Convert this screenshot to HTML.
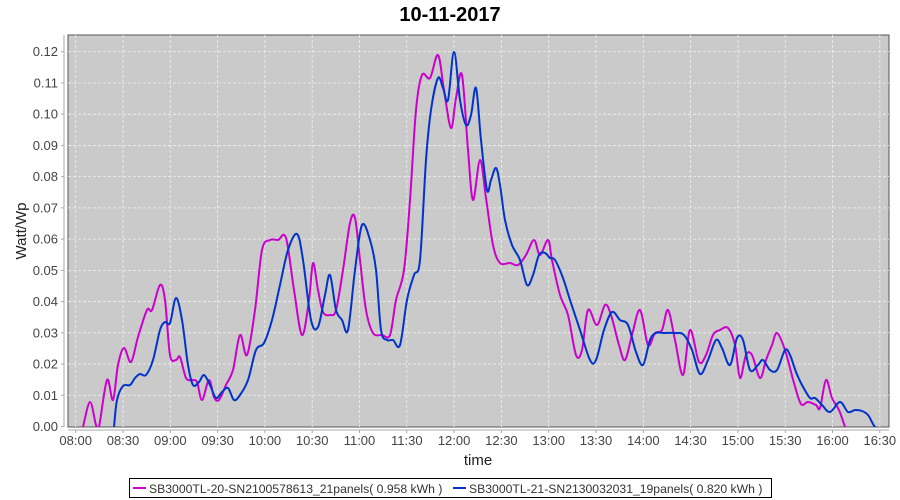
<!DOCTYPE html>
<html><head><meta charset="utf-8"><style>
body{margin:0;background:#fff;}
svg{display:block;font-family:"Liberation Sans",sans-serif;}
</style></head><body>
<svg id="s" width="900" height="500" xmlns="http://www.w3.org/2000/svg">
<defs><clipPath id="cp"><rect x="68" y="35" width="821" height="392"/></clipPath></defs>
<text x="450" y="21" text-anchor="middle" font-size="20" font-weight="bold" fill="#000">10-11-2017</text>
<rect x="68" y="35" width="821" height="392" fill="#cacaca" stroke="#555" stroke-width="1"/>
<g id="grid" stroke="#f0f0f0" stroke-dasharray="3,2" stroke-width="0.8"></g>
<g id="axes" stroke="#aaa" fill="none"></g>
<g id="labels" font-size="13" fill="#444"></g>
<text transform="translate(26,231) rotate(-90)" text-anchor="middle" font-size="15" fill="#222">Watt/Wp</text>
<text x="478" y="465" text-anchor="middle" font-size="15" fill="#222">time</text>
<g clip-path="url(#cp)">
<path id="m" fill="none" stroke="#cc00cc" stroke-width="2"/>
<path id="b" fill="none" stroke="#0033cc" stroke-width="2"/>
</g>
<rect x="129.5" y="478.5" width="642" height="19" fill="#fff" stroke="#000"/>
<line x1="133" y1="488" x2="146" y2="488" stroke="#cc00cc" stroke-width="2"/>
<text x="149" y="493" font-size="12.2" fill="#333">SB3000TL-20-SN2100578613_21panels( 0.958 kWh )</text>
<line x1="453" y1="488" x2="466" y2="488" stroke="#0033cc" stroke-width="2"/>
<text x="469" y="493" font-size="12.2" fill="#333">SB3000TL-21-SN2130032031_19panels( 0.820 kWh )</text>
</svg>
<script>
var NS="http://www.w3.org/2000/svg";
function el(p,t,a){var e=document.createElementNS(NS,t);for(var k in a)e.setAttribute(k,a[k]);p.appendChild(e);return e;}
var g=document.getElementById('grid'),ax=document.getElementById('axes'),lb=document.getElementById('labels');
for(var i=0;i<=12;i++){var y=426.5-i*31.23;
 if(i>0)el(g,'line',{x1:68,x2:889,y1:y,y2:y});
 el(ax,'line',{x1:61,x2:64,y1:y,y2:y});
 var t=el(lb,'text',{x:58,y:y+4.5,'text-anchor':'end'});t.textContent=(i/100).toFixed(2);}
var times=["08:00","08:30","09:00","09:30","10:00","10:30","11:00","11:30","12:00","12:30","13:00","13:30","14:00","14:30","15:00","15:30","16:00","16:30"];
for(var i=0;i<18;i++){var x=75.7+i*47.3;
 el(g,'line',{x1:x,x2:x,y1:35,y2:427});
 el(ax,'line',{x1:x,x2:x,y1:430,y2:433});
 var t=el(lb,'text',{x:x,y:445,'text-anchor':'middle'});t.textContent=times[i];}
el(ax,'line',{x1:64,x2:64,y1:35,y2:427});
el(ax,'line',{x1:68,x2:889,y1:430,y2:430});
function path(p){var d="M"+p[0][0]+","+p[0][1];
 for(var i=0;i<p.length-1;i++){var p0=p[i-1]||p[i],p1=p[i],p2=p[i+1],p3=p[i+2]||p2;
 d+=" C"+(p1[0]+(p2[0]-p0[0])/6)+","+(p1[1]+(p2[1]-p0[1])/6)+" "+(p2[0]-(p3[0]-p1[0])/6)+","+(p2[1]-(p3[1]-p1[1])/6)+" "+p2[0]+","+p2[1];}
 return d;}
var M=[[83,427],[90,402],[96,425],[99,427],[107,380],[113,400],[118,365],[124,348],[131,362],[138,337],[147,310],[152,310],[160,285],[165,300],[170,355],[176,360],[180,357],[186,378],[192,380],[197,382],[202,400],[209,380],[214,397],[219,400],[226,385],[233,370],[240,335],[247,355],[255,310],[262,250],[270,240],[278,240],[286,238],[294,290],[302,335],[309,300],[313,263],[318,290],[323,312],[330,315],[336,310],[343,270],[350,223],[355,218],[360,260],[366,310],[373,333],[382,335],[390,335],[396,300],[404,270],[410,200],[416,110],[422,75],[430,78],[438,55],[444,90],[451,128],[456,98],[462,75],[468,150],[473,200],[480,160],[486,198],[493,245],[500,263],[510,263],[518,265],[526,255],[534,240],[540,255],[548,240],[552,260],[560,295],[568,315],[576,355],[582,350],[588,310],[597,325],[605,305],[611,315],[619,345],[625,360],[632,335],[640,310],[648,345],[655,333],[662,330],[668,310],[675,340],[683,375],[690,330],[699,362],[706,355],[713,335],[720,330],[728,328],[735,345],[740,378],[746,355],[752,355],[760,378],[766,360],[772,345],[777,333],[785,350],[794,383],[801,404],[808,402],[816,405],[820,408],[826,380],[832,398],[839,410],[845,427]];
var B=[[114,427],[117,400],[123,386],[130,385],[135,378],[140,374],[146,375],[153,360],[160,330],[165,322],[170,323],[176,298],[182,320],[188,365],[193,385],[199,382],[204,375],[210,385],[216,398],[222,392],[228,388],[234,400],[240,395],[248,380],[256,350],[264,343],[272,320],[280,285],[288,250],[297,234],[303,260],[311,320],[318,327],[325,295],[330,275],[336,310],[342,320],[348,330],[355,270],[362,225],[370,240],[376,270],[381,330],[387,340],[393,340],[400,345],[407,300],[414,275],[420,260],[426,160],[431,110],[438,78],[443,88],[448,100],[454,52],[460,100],[466,125],[471,115],[476,88],[481,140],[487,190],[491,180],[496,168],[500,185],[505,220],[512,245],[520,260],[527,285],[533,275],[539,255],[545,253],[550,258],[555,260],[563,278],[570,300],[580,330],[590,360],[596,360],[604,330],[612,312],[620,320],[628,325],[636,352],[643,365],[650,340],[656,333],[665,333],[676,333],[684,335],[692,350],[700,374],[708,360],[716,340],[722,348],[730,365],[737,338],[743,340],[750,370],[758,365],[763,360],[770,370],[777,370],[785,350],[790,355],[796,372],[802,385],[810,398],[815,398],[822,405],[830,412],[840,402],[848,412],[855,410],[862,411],[868,415],[873,424],[875,427]];
document.getElementById('m').setAttribute('d',path(M));
document.getElementById('b').setAttribute('d',path(B));
</script>
</body></html>
